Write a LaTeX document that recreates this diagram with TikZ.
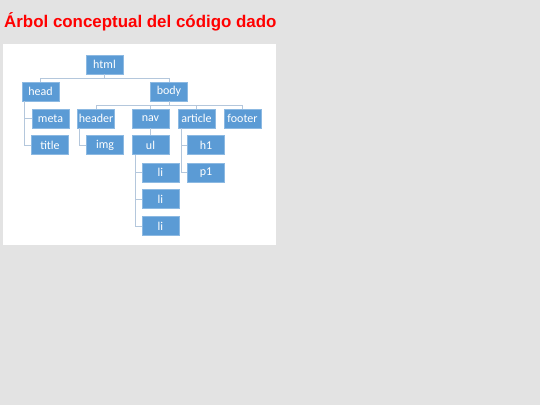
\documentclass[tikz,border=0pt]{standalone}
\usepackage{fontspec}
\setmainfont{Liberation Sans}
\newfontfamily\nodefont{Carlito}
\definecolor{bg}{HTML}{E3E3E3}
\definecolor{boxblue}{HTML}{5B9BD5}
\definecolor{linecol}{HTML}{B4C7DC}
\definecolor{titlered}{HTML}{FF0000}
\tikzset{
  tbox/.style={draw=boxblue!70!white, line width=0.6pt, fill=boxblue, text=white, minimum width=37pt, minimum height=19pt, inner sep=0pt, font=\nodefont\fontsize{12}{12}\selectfont},
  conn/.style={draw=linecol, line width=1pt}
}
\begin{document}
\begin{tikzpicture}[x=1pt,y=-1pt]
\useasboundingbox (0,0) rectangle (540,405);
\fill[bg] (0,0) rectangle (540,405);
\fill[white] (3,44) rectangle (276,245);
\node[anchor=base west, inner sep=0pt, text=titlered, font=\bfseries\fontsize{16.9}{18}\selectfont] (ttl) at (4,27) {Árbol conceptual del código dado};
% nodes
\node[tbox] (html) at (104.5,64.5) {html};
\node[tbox] (head) at (40.5,91.5) {head};
\node[tbox] (body) at (169,91.5) {body};
\node[tbox] (meta) at (50.5,118.5) {meta};
\node[tbox] (header) at (96,118.5) {header};
\node[tbox] (nav) at (150.5,118.5) {nav};
\node[tbox] (article) at (196.5,118.5) {article};
\node[tbox] (footer) at (242.5,118.5) {footer};
\node[tbox] (title) at (50,145) {title};
\node[tbox] (img) at (105,145) {img};
\node[tbox] (ul) at (150.5,145) {ul};
\node[tbox] (h1) at (206,145) {h1};
\node[tbox] (li1) at (160.5,172.5) {li};
\node[tbox] (p1) at (206,172.5) {p1};
\node[tbox] (li2) at (160.5,199) {li};
\node[tbox] (li3) at (160.5,226) {li};
% connectors
\path (html.south) ++(0,4) coordinate (hb);
\draw[conn] (html.south) -- (hb);
\draw[conn] (head.north) |- (hb) -| (body.north);
\path (body.south) ++(0,4) coordinate (bb);
\draw[conn] (body.south) -- (bb);
\draw[conn] (header.north) |- (bb) -| (footer.north);
\draw[conn] (nav.north) -- (nav.north |- bb);
\draw[conn] (article.north) -- (article.north |- bb);
\coordinate (hs) at ([xshift=3]head.south west);
\draw[conn] (hs) |- (title.west);
\draw[conn] (hs |- meta.west) -- (meta.west);
\coordinate (hds) at ([xshift=2]header.south west);
\draw[conn] (hds) |- (img.west);
\draw[conn] (nav.south) -- (ul.north);
\coordinate (us) at ([xshift=4]ul.south west);
\draw[conn] (us) |- (li3.west);
\draw[conn] (us |- li1.west) -- (li1.west);
\draw[conn] (us |- li2.west) -- (li2.west);
\coordinate (as) at ([xshift=4]article.south west);
\draw[conn] (as) |- (p1.west);
\draw[conn] (as |- h1.west) -- (h1.west);
\end{tikzpicture}
\end{document}
